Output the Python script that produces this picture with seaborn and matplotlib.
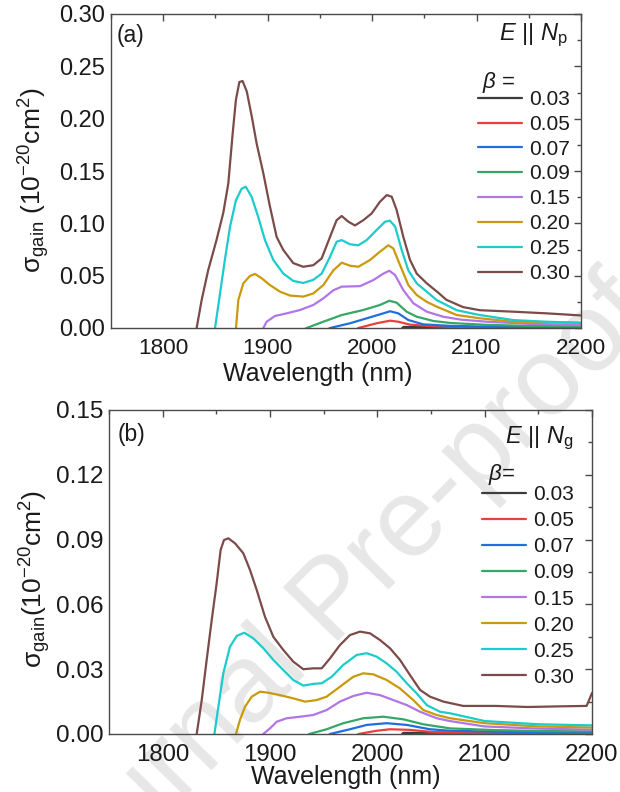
import numpy as np
import pandas as pd
import matplotlib
matplotlib.use("Agg")
import matplotlib.pyplot as plt
import seaborn as sns

sns.set_theme(style="white")
plt.rcParams['font.family'] = ['Liberation Sans', 'DejaVu Sans']
plt.rcParams['mathtext.fontset'] = 'custom'
plt.rcParams['mathtext.rm'] = 'Liberation Sans'
plt.rcParams['mathtext.it'] = 'Liberation Sans:italic'
plt.rcParams['mathtext.bf'] = 'Liberation Sans:bold'

betas = ["0.03", "0.05", "0.07", "0.09", "0.15", "0.20", "0.25", "0.30"]
colors = ["#3c3c3c", "#e8413c", "#1f6fdc", "#36a766", "#b275e6", "#c99a0c", "#1ccbcb", "#7b4b49"]

# ---------------- panel (a): E || Np ----------------
a_x_003 = [2026, 2030, 2060, 2100, 2150, 2200]
a_y_003 = [-0.003, 0.001, 0.0008, 0.0008, 0.0006, 0.0005]
a_x_005 = [1983, 1986.8, 2004.3, 2017.2, 2025, 2036.3, 2058.6, 2075, 2120, 2200]
a_y_005 = [-0.003, 0.0, 0.0045, 0.007, 0.006, 0.0032, 0.0016, 0.001, 0.0007, 0.0004]
a_x_007 = [1955, 1959.7, 1978.8, 1998, 2010.8, 2017.2, 2025, 2034.7, 2049, 2075, 2120, 2200]
a_y_007 = [-0.003, 0.0, 0.0045, 0.0102, 0.014, 0.016, 0.014, 0.0076, 0.0035, 0.002, 0.0012, 0.0008]
a_x_009 = [1932, 1937.3, 1953.3, 1970.9, 1991.6, 2007.5, 2016.5, 2023.5, 2033, 2042.7, 2058.6, 2075, 2110, 2150, 2200]
a_y_009 = [-0.003, 0.0, 0.006, 0.0124, 0.0172, 0.022, 0.026, 0.0242, 0.0156, 0.0108, 0.0067, 0.0048, 0.003, 0.002, 0.0015]
a_x_015 = [1893, 1895.9, 1899, 1907, 1918.2, 1931, 1943.7, 1953.3, 1962.8, 1970.9, 1988.4, 2001.2,
           2010.8, 2016.5, 2022, 2030, 2039.5, 2052.3, 2068, 2085, 2110, 2150, 2200]
a_y_015 = [-0.006, 0.0, 0.006, 0.0115, 0.014, 0.0172, 0.022, 0.0283, 0.036, 0.0395, 0.040, 0.0458,
           0.052, 0.0547, 0.0506, 0.036, 0.0236, 0.0156, 0.0108, 0.008, 0.006, 0.004, 0.003]
a_x_020 = [1868, 1869.7, 1871.9, 1876.7, 1883, 1887.9, 1894.3, 1902.2, 1911.8, 1921.4, 1934, 1943.7,
           1953.3, 1962.8, 1970.9, 1978.8, 1986.8, 1998, 2007.5, 2015.5, 2020.3, 2026.7, 2034.7,
           2042.7, 2052.3, 2061.8, 2081, 2103, 2135, 2170, 2200]
a_y_020 = [-0.008, 0.0, 0.0267, 0.0427, 0.0497, 0.0516, 0.0475, 0.041, 0.0347, 0.031, 0.030, 0.033,
           0.041, 0.055, 0.0624, 0.0595, 0.0585, 0.065, 0.0729, 0.079, 0.076, 0.0602, 0.041,
           0.0315, 0.025, 0.0204, 0.0124, 0.0093, 0.006, 0.0055, 0.005]
a_x_025 = [1848, 1849.6, 1854.4, 1859, 1864, 1869.6, 1875, 1879, 1884.6, 1891, 1897.4, 1905.4, 1915,
           1924.5, 1934, 1943.7, 1951.7, 1959.7, 1966, 1970.9, 1978.8, 1986.8, 1994.8, 2004.3,
           2012.3, 2017, 2022, 2028.3, 2034.7, 2042.7, 2052.3, 2061.8, 2081, 2103, 2135, 2167, 2200]
a_y_025 = [-0.01, 0.0, 0.033, 0.065, 0.097, 0.122, 0.133, 0.135, 0.1254, 0.106, 0.084, 0.065, 0.052,
           0.045, 0.043, 0.046, 0.052, 0.068, 0.0824, 0.084, 0.080, 0.079, 0.084, 0.0936,
           0.1015, 0.1025, 0.097, 0.0745, 0.055, 0.0427, 0.0347, 0.0267, 0.017, 0.0124, 0.0076, 0.006, 0.005]
a_x_030 = [1830.5, 1832, 1836.8, 1843, 1851, 1857.5, 1862.3, 1866.5, 1869.6, 1872.9, 1876, 1880,
           1884.8, 1889.5, 1895.8, 1902.2, 1908.6, 1915, 1924.5, 1934, 1943.7, 1951.7, 1959.7,
           1966, 1970.9, 1977.3, 1983.6, 1991.6, 1999.6, 2007.5, 2014, 2018.8, 2023.5, 2029.9,
           2036.3, 2042.7, 2052.3, 2063, 2071, 2087, 2103, 2135, 2167, 2200]
a_y_030 = [-0.008, 0.0, 0.0267, 0.055, 0.084, 0.110, 0.138, 0.186, 0.218, 0.235, 0.236, 0.226,
           0.202, 0.176, 0.148, 0.116, 0.087, 0.0745, 0.062, 0.0585, 0.060, 0.0665, 0.087,
           0.103, 0.107, 0.1015, 0.098, 0.103, 0.1095, 0.1206, 0.127, 0.1254, 0.1127, 0.087,
           0.065, 0.052, 0.0427, 0.034, 0.027, 0.020, 0.017, 0.0156, 0.014, 0.012]

# ---------------- panel (b): E || Ng ----------------
b_x_003 = [2020, 2024, 2060, 2100, 2150, 2200]
b_y_003 = [-0.002, 0.0005, 0.0006, 0.0006, 0.0005, 0.0004]
b_x_005 = [1979, 1982.3, 1999.4, 2011.8, 2030.4, 2052, 2067.7, 2120, 2200]
b_y_005 = [-0.002, 0.0, 0.0015, 0.0022, 0.0019, 0.0009, 0.0007, 0.0006, 0.0005]
b_x_007 = [1952, 1955.9, 1974.5, 1990.1, 2008.7, 2027.4, 2049, 2067.7, 2120, 2200]
b_y_007 = [-0.002, 0.0, 0.0022, 0.0042, 0.005, 0.0042, 0.0022, 0.0015, 0.001, 0.0008]
b_x_009 = [1933, 1936.6, 1952.8, 1968.3, 1986.9, 2005.6, 2024.2, 2042.8, 2067.7, 2110, 2150, 2200]
b_y_009 = [-0.002, 0.0, 0.0022, 0.005, 0.0073, 0.008, 0.0068, 0.0045, 0.0026, 0.0018, 0.0014, 0.0012]
b_x_015 = [1891, 1893.8, 1900, 1906.3, 1915.6, 1928, 1940.3, 1952.8, 1965.2, 1977.6, 1990.1, 2002.5,
           2014.9, 2027.4, 2039.8, 2055.3, 2067.7, 2100, 2150, 2200]
b_y_015 = [-0.004, 0.0, 0.0026, 0.0057, 0.0073, 0.008, 0.0088, 0.0111, 0.015, 0.0176, 0.0191, 0.018,
           0.0157, 0.0134, 0.0103, 0.0073, 0.006, 0.0035, 0.0025, 0.002]
b_x_020 = [1866, 1868.3, 1872, 1876.7, 1883, 1890.7, 1898.4, 1909.3, 1921.7, 1932.6, 1943.5, 1952.8,
           1965.2, 1977.6, 1986.9, 1996.3, 2008.7, 2021.1, 2033.5, 2042.8, 2055.3, 2067.7, 2100,
           2150, 2200]
b_y_020 = [-0.004, 0.0, 0.0065, 0.0126, 0.0173, 0.0196, 0.0191, 0.018, 0.0165, 0.015, 0.0157, 0.0173,
           0.0219, 0.0265, 0.0281, 0.0276, 0.025, 0.0211, 0.0157, 0.0111, 0.0088, 0.0073, 0.005,
           0.0035, 0.003]
b_x_025 = [1846, 1848.2, 1851.9, 1856.5, 1862.7, 1869, 1876, 1884.4, 1893.8, 1903.1, 1912.4, 1921.7,
           1931, 1940.3, 1948.2, 1957.5, 1968.3, 1980.8, 1990.1, 1999.4, 2008.7, 2018, 2027.4,
           2036.7, 2046, 2058.4, 2067.7, 2100, 2150, 2200]
b_y_025 = [-0.004, 0.0, 0.0126, 0.0281, 0.0404, 0.0454, 0.0469, 0.0443, 0.0397, 0.0343, 0.0296, 0.025,
           0.0224, 0.0232, 0.0235, 0.0265, 0.032, 0.0366, 0.0374, 0.0358, 0.0327, 0.0288, 0.0235,
           0.0188, 0.0134, 0.0103, 0.0096, 0.006, 0.0045, 0.004]
b_x_030 = [1829.5, 1831.7, 1836.4, 1841, 1845.7, 1850.3, 1854, 1857.1, 1861.2, 1867.4, 1875.1, 1881.4,
           1887.6, 1895.3, 1903.1, 1912.4, 1921.7, 1931, 1940.3, 1948.2, 1955.9, 1965.2, 1974.5,
           1983.9, 1993.2, 2002.5, 2011.8, 2021.1, 2030.4, 2039.8, 2049, 2061.5, 2080, 2110,
           2140, 2170, 2195, 2200]
b_y_030 = [-0.004, 0.0, 0.0157, 0.0343, 0.0528, 0.0698, 0.0852, 0.0898, 0.0906, 0.0883, 0.0837, 0.0759,
           0.0667, 0.0543, 0.045, 0.0389, 0.0335, 0.030, 0.0304, 0.0304, 0.035, 0.0412, 0.0458,
           0.0474, 0.0466, 0.0435, 0.0397, 0.0343, 0.0273, 0.0204, 0.0173, 0.015, 0.013, 0.013,
           0.0125, 0.0128, 0.013, 0.019]

panel_a = [(a_x_003, a_y_003), (a_x_005, a_y_005), (a_x_007, a_y_007), (a_x_009, a_y_009),
           (a_x_015, a_y_015), (a_x_020, a_y_020), (a_x_025, a_y_025), (a_x_030, a_y_030)]
panel_b = [(b_x_003, b_y_003), (b_x_005, b_y_005), (b_x_007, b_y_007), (b_x_009, b_y_009),
           (b_x_015, b_y_015), (b_x_020, b_y_020), (b_x_025, b_y_025), (b_x_030, b_y_030)]


def to_df(panel):
    rows = []
    for b, (xs, ys) in zip(betas, panel):
        for x, y in zip(xs, ys):
            rows.append({"wl": x, "sigma": y, "beta": b})
    return pd.DataFrame(rows)


fig = plt.figure(figsize=(6.2, 7.92), dpi=100)
fig.patch.set_facecolor("white")

# watermark
fig.text(335 / 620, 1 - 603 / 792, "Journal Pre-proof", fontsize=80, color="#e7e7e7",
         rotation=45.6, ha="center", va="center", rotation_mode="anchor", zorder=-5)

ax_a = fig.add_axes([111 / 620, 1 - 328 / 792, 470 / 620, 314 / 792])
ax_b = fig.add_axes([109 / 620, 1 - 734 / 792, 483 / 620, 324 / 792])

palette = dict(zip(betas, colors))
spine_c = "#4a4a4a"
txt_c = "#1a1a1a"

configs = [
    dict(ax=ax_a, panel=panel_a, ymax=0.30, ymaj=0.05, ymin=0.025,
         ylab=r"σ$_{\rm gain}$ (10$^{-20}$cm$^{2}$)", tag="(a)", pol=r"$E$ || $N_{\rm p}$",
         ylc=(-0.125, 0.47), xlc=(0.44, -0.108), xfs=16.2, yfs=17, tagpos=(0.013, 0.933),
         polpos=(0.972, 0.917), betatxt=r"$\beta$ =", betapos=(0.789, 0.764),
         legpos=(0.781, 0.758), ls=0.28),
    dict(ax=ax_b, panel=panel_b, ymax=0.15, ymaj=0.03, ymin=0.015,
         ylab=r"σ$_{\rm gain}$(10$^{-20}$cm$^{2}$)", tag="(b)", pol=r"$E$ || $N_{\rm g}$",
         ylc=(-0.116, 0.48), xlc=(0.49, -0.095), xfs=17.3, yfs=17.5, tagpos=(0.017, 0.923),
         polpos=(0.961, 0.898), betatxt=r"$\beta$=", betapos=(0.785, 0.784),
         legpos=(0.772, 0.768), ls=0.34),
]

for c in configs:
    ax = c["ax"]
    ax.set_facecolor("none")
    df = to_df(c["panel"])
    sns.lineplot(data=df, x="wl", y="sigma", hue="beta", palette=palette, hue_order=betas,
                 estimator=None, sort=False, legend=False, linewidth=1.6, ax=ax)
    ymax = c["ymax"]
    ax.set_xlim(1750, 2200)
    ax.set_ylim(0, ymax)
    ax.set_xticks([1800, 1900, 2000, 2100, 2200])
    ax.set_xticks(np.arange(1750, 2201, 50), minor=True)
    ax.set_yticks(np.round(np.arange(0, ymax + 1e-9, c["ymaj"]), 3))
    ax.set_yticks(np.arange(0, ymax + 1e-9, c["ymin"]), minor=True)
    ax.yaxis.set_major_formatter(matplotlib.ticker.FormatStrFormatter("%.2f"))
    ax.tick_params(which="both", direction="in", top=True, right=True, colors=spine_c,
                   labelcolor=txt_c, width=1.0)
    ax.tick_params(axis="x", which="major", labelsize=c["xfs"], pad=7)
    ax.tick_params(axis="y", which="major", labelsize=c["yfs"], pad=4)
    ax.tick_params(which="major", length=5)
    ax.tick_params(which="minor", length=3)
    for s in ax.spines.values():
        s.set_color(spine_c)
        s.set_linewidth(1.0)
    ax.set_xlabel("Wavelength (nm)", fontsize=18, color=txt_c)
    ax.set_ylabel(c["ylab"], fontsize=19, color=txt_c)
    ax.yaxis.set_label_coords(*c["ylc"])
    ax.xaxis.set_label_coords(*c["xlc"])
    ax.text(*c["tagpos"], c["tag"], transform=ax.transAxes, fontsize=16.5,
            ha="left", va="center", color=txt_c)
    ax.text(*c["polpos"], c["pol"], transform=ax.transAxes, fontsize=17,
            ha="right", va="baseline", color=txt_c)
    ax.text(*c["betapos"], c["betatxt"], transform=ax.transAxes, fontsize=16,
            ha="left", va="baseline", color=txt_c)
    handles = ax.lines[:len(betas)]
    leg = ax.legend(handles=handles, labels=betas, loc="upper left", bbox_to_anchor=c["legpos"],
                    frameon=False, fontsize=15, handlelength=2.1, handletextpad=0.35,
                    labelspacing=c["ls"], borderpad=0, borderaxespad=0)
    for t in leg.get_texts():
        t.set_color(txt_c)

fig.savefig("out.png", dpi=100, facecolor="white")
